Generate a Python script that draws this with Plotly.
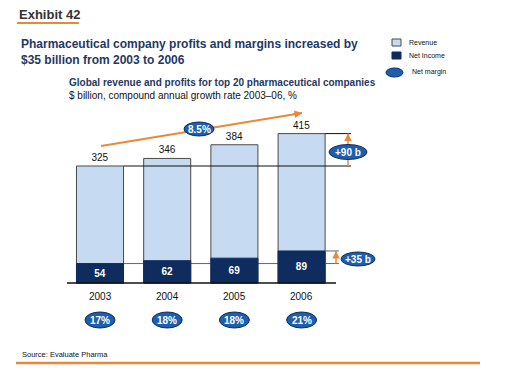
import plotly.graph_objects as go

years = ["2003", "2004", "2005", "2006"]
revenue = [325, 346, 384, 415]
net_income = [54, 62, 69, 89]
net_margin = ["17%", "18%", "18%", "21%"]
cagr_label = "8.5%"
revenue_delta = "+90 b"
income_delta = "+35 b"

W, H = 506, 373
NAVY = "#0E2C5E"
LIGHT = "#C6DAF2"
OVAL = "#1D5FAE"
ORANGE = "#E8893A"
TITLE = "#1F3864"
FONT = "Liberation Sans, Arial, sans-serif"

# pixel <-> coordinate helpers (layout only)
X0PX, XSTEP = 100.0, 67.2      # centre of first bar, spacing
Y0PX, YSCALE = 283.0, 0.36     # baseline pixel, pixels per $bn
def dx(px): return (px - X0PX) / XSTEP
def dy(py): return (Y0PX - py) / YSCALE
def PX(x): return x / W
def PY(y): return 1 - y / H

xs = list(range(len(years)))
BW = 0.70

fig = go.Figure()
fig.add_trace(go.Bar(
    x=xs, y=revenue, width=BW, marker=dict(color=LIGHT, line=dict(color="#4a4a4a", width=1)),
    text=[str(v) for v in revenue], textposition="outside", cliponaxis=False,
    textfont=dict(family=FONT, size=10, color="#111"), hoverinfo="skip", showlegend=False))
fig.add_trace(go.Bar(
    x=xs, y=net_income, width=BW, marker=dict(color=NAVY, line=dict(color=NAVY, width=1)),
    text=[str(v) for v in net_income], textposition="inside", insidetextanchor="middle",
    constraintext="none",
    textfont=dict(family=FONT, size=10, color="white", weight="bold"), hoverinfo="skip", showlegend=False))

shapes = []
annotations = []

# baseline
shapes.append(dict(type="line", xref="x", yref="y", x0=dx(67), x1=dx(336), y0=0, y1=0,
                   line=dict(color="#111", width=1.5), layer="above"))
# reference lines
shapes.append(dict(type="line", xref="x", yref="y", x0=xs[0] + BW / 2, x1=dx(351),
                   y0=revenue[0], y1=revenue[0], line=dict(color="#111", width=1), layer="above"))
shapes.append(dict(type="line", xref="x", yref="y", x0=xs[-1] + BW / 2, x1=dx(351),
                   y0=revenue[-1], y1=revenue[-1], line=dict(color="#111", width=1), layer="above"))
shapes.append(dict(type="line", xref="x", yref="y", x0=xs[0] + BW / 2, x1=dx(339),
                   y0=net_income[0], y1=net_income[0], line=dict(color="#666", width=1), layer="below"))
shapes.append(dict(type="line", xref="x", yref="y", x0=xs[-1] + BW / 2, x1=dx(339),
                   y0=net_income[-1], y1=net_income[-1], line=dict(color="#666", width=1), layer="above"))

def oval(xc, yc, w, h, text, size=10):
    shapes.append(dict(type="circle", xref="x", yref="y", xsizemode="pixel", ysizemode="pixel",
                       xanchor=xc, yanchor=yc, x0=-w / 2, x1=w / 2, y0=-h / 2, y1=h / 2,
                       fillcolor=OVAL, line=dict(color=NAVY, width=1), layer="above"))
    annotations.append(dict(x=xc, y=yc, xref="x", yref="y", text="<b>%s</b>" % text, showarrow=False,
                            font=dict(family=FONT, size=size, color="white")))

def arrow_head(x, y, axp, ayp):
    annotations.append(dict(x=x, y=y, xref="x", yref="y", ax=axp, ay=ayp, text="", showarrow=True,
                            arrowhead=2, arrowsize=1, arrowwidth=1.5, arrowcolor=ORANGE, standoff=0))

# trend arrow (CAGR)
tx0, ty0, tx1, ty1 = dx(101), dy(146), dx(302), dy(113)
shapes.append(dict(type="line", xref="x", yref="y", x0=tx0, y0=ty0, x1=tx1, y1=ty1,
                   line=dict(color=ORANGE, width=1.8), layer="above"))
arrow_head(tx1, ty1, -10, 1.6)
oval(dx(199), dy(129), 30, 14, cagr_label)

# +90 b arrow
ax90 = dx(348)
shapes.append(dict(type="line", xref="x", yref="y", x0=ax90, x1=ax90, y0=revenue[0], y1=revenue[-1],
                   line=dict(color=ORANGE, width=1.5), layer="above"))
arrow_head(ax90, revenue[-1], 0, 8)
oval(ax90, dy(152), 38, 15, revenue_delta)

# +35 b arrow
ax35 = dx(336)
shapes.append(dict(type="line", xref="x", yref="y", x0=ax35, x1=ax35, y0=net_income[0], y1=net_income[-1],
                   line=dict(color=ORANGE, width=1.5), layer="above"))
arrow_head(ax35, net_income[-1], 0, 8)
oval(dx(358), dy(259), 34, 14, income_delta)

# year labels and margin ovals
for i, yr in enumerate(years):
    annotations.append(dict(x=xs[i], y=dy(296), xref="x", yref="y", text=yr, showarrow=False,
                            font=dict(family=FONT, size=10, color="#111")))
    oval(xs[i], dy(320), 30, 16, net_margin[i])

# header texts
annotations += [
    dict(x=PX(17), y=PY(14), xref="paper", yref="paper", xanchor="left", yanchor="middle",
         text="<b>Exhibit 42</b>", showarrow=False, font=dict(family=FONT, size=13, color="#333")),
    dict(x=PX(19), y=PY(52), xref="paper", yref="paper", xanchor="left", yanchor="middle", align="left",
         text="<b>Pharmaceutical company profits and margins increased by<br>$35 billion from 2003 to 2006</b>",
         showarrow=False, font=dict(family=FONT, size=12, color=TITLE)),
    dict(x=PX(67), y=PY(82), xref="paper", yref="paper", xanchor="left", yanchor="middle",
         text="<b>Global revenue and profits for top 20 pharmaceutical companies</b>",
         showarrow=False, font=dict(family=FONT, size=10, color=TITLE)),
    dict(x=PX(67), y=PY(96), xref="paper", yref="paper", xanchor="left", yanchor="middle",
         text="$ billion, compound annual growth rate 2003\u201306, %",
         showarrow=False, font=dict(family=FONT, size=10, color="#111")),
    dict(x=PX(20), y=PY(354), xref="paper", yref="paper", xanchor="left", yanchor="middle",
         text="Source: Evaluate Pharma", showarrow=False, font=dict(family=FONT, size=7.5, color="#111")),
]
# exhibit underline and bottom rule
shapes.append(dict(type="line", xref="paper", yref="paper", x0=PX(17), x1=PX(79), y0=PY(23), y1=PY(23),
                   line=dict(color=ORANGE, width=2)))
shapes.append(dict(type="line", xref="paper", yref="paper", x0=PX(16), x1=PX(480), y0=PY(363), y1=PY(363),
                   line=dict(color=ORANGE, width=2.5)))

# legend
shapes.append(dict(type="rect", xref="paper", yref="paper", x0=PX(392), x1=PX(401), y0=PY(46), y1=PY(39),
                   fillcolor=LIGHT, line=dict(color="#4a4a4a", width=1)))
shapes.append(dict(type="rect", xref="paper", yref="paper", x0=PX(392), x1=PX(401), y0=PY(59), y1=PY(52),
                   fillcolor=NAVY, line=dict(color=NAVY, width=1)))
shapes.append(dict(type="circle", xref="paper", yref="paper", x0=PX(386), x1=PX(403), y0=PY(77), y1=PY(68),
                   fillcolor=OVAL, line=dict(color=NAVY, width=1)))
for txt, yy, xx in [("Revenue", 43, 407), ("Net Income", 56, 407), ("Net margin", 72, 410)]:
    annotations.append(dict(x=PX(xx), y=PY(yy), xref="paper", yref="paper", xanchor="left", yanchor="middle",
                            text=txt, showarrow=False, font=dict(family=FONT, size=7, color="#111")))

fig.update_layout(
    width=W, height=H, margin=dict(l=0, r=0, t=0, b=0),
    paper_bgcolor="white", plot_bgcolor="rgba(0,0,0,0)",
    barmode="overlay", showlegend=False,
    xaxis=dict(domain=[PX(40), PX(400)], range=[dx(40), dx(400)], visible=False, fixedrange=True),
    yaxis=dict(domain=[PY(340), PY(100)], range=[dy(340), dy(100)], visible=False, fixedrange=True),
    shapes=shapes, annotations=annotations,
    font=dict(family=FONT),
)

fig.write_html("out.html", config={"displayModeBar": False},
               post_script="document.body.style.margin='0';document.body.style.overflow='hidden';")
